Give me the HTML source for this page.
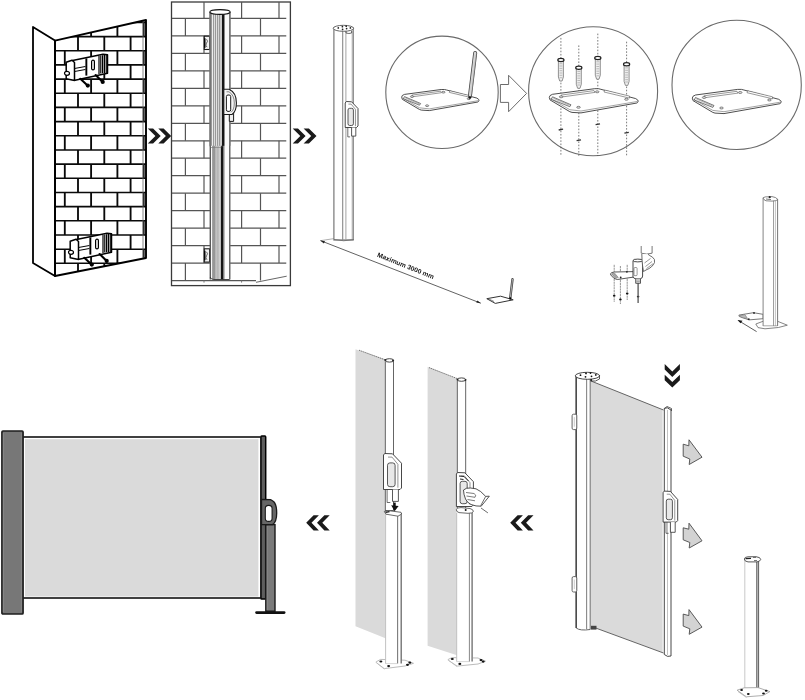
<!DOCTYPE html>
<html><head><meta charset="utf-8"><title>Installation</title>
<style>
html,body{margin:0;padding:0;background:#fff;width:805px;height:700px;overflow:hidden;}
svg{display:block;font-family:"Liberation Sans",sans-serif;will-change:transform;}
</style></head><body>
<svg width="805" height="700" viewBox="0 0 805 700">
<rect width="805" height="700" fill="#fff"/>
<defs><clipPath id="wall1"><polygon points="55,40.6 146,20 146,258 55,276"/></clipPath><clipPath id="wall2"><rect x="172" y="2" width="114.5" height="283.5"/></clipPath></defs>
<polygon points="33.0,27.0 55.0,40.6 55.0,276.0 33.0,263.0" fill="#fff" stroke="#000" stroke-width="1.8" stroke-linejoin="round" />
<g clip-path="url(#wall1)">
<line x1="55.0" y1="8.3" x2="146.0" y2="8.3" stroke="#0a0a0a" stroke-width="1.6" />
<line x1="52.0" y1="8.3" x2="52.0" y2="22.4" stroke="#0a0a0a" stroke-width="1.85" />
<line x1="78.0" y1="8.3" x2="78.0" y2="22.4" stroke="#0a0a0a" stroke-width="1.85" />
<line x1="104.3" y1="8.3" x2="104.3" y2="22.4" stroke="#0a0a0a" stroke-width="1.85" />
<line x1="130.6" y1="8.3" x2="130.6" y2="22.4" stroke="#0a0a0a" stroke-width="1.85" />
<line x1="55.0" y1="22.4" x2="146.0" y2="22.4" stroke="#0a0a0a" stroke-width="1.6" />
<line x1="64.8" y1="22.4" x2="64.8" y2="36.6" stroke="#0a0a0a" stroke-width="1.85" />
<line x1="91.1" y1="22.4" x2="91.1" y2="36.6" stroke="#0a0a0a" stroke-width="1.85" />
<line x1="117.4" y1="22.4" x2="117.4" y2="36.6" stroke="#0a0a0a" stroke-width="1.85" />
<line x1="143.7" y1="22.4" x2="143.7" y2="36.6" stroke="#0a0a0a" stroke-width="1.85" />
<line x1="55.0" y1="36.6" x2="146.0" y2="36.6" stroke="#0a0a0a" stroke-width="1.6" />
<line x1="52.0" y1="36.6" x2="52.0" y2="50.8" stroke="#0a0a0a" stroke-width="1.85" />
<line x1="78.0" y1="36.6" x2="78.0" y2="50.8" stroke="#0a0a0a" stroke-width="1.85" />
<line x1="104.3" y1="36.6" x2="104.3" y2="50.8" stroke="#0a0a0a" stroke-width="1.85" />
<line x1="130.6" y1="36.6" x2="130.6" y2="50.8" stroke="#0a0a0a" stroke-width="1.85" />
<line x1="55.0" y1="50.8" x2="146.0" y2="50.8" stroke="#0a0a0a" stroke-width="1.6" />
<line x1="64.8" y1="50.8" x2="64.8" y2="64.9" stroke="#0a0a0a" stroke-width="1.85" />
<line x1="91.1" y1="50.8" x2="91.1" y2="64.9" stroke="#0a0a0a" stroke-width="1.85" />
<line x1="117.4" y1="50.8" x2="117.4" y2="64.9" stroke="#0a0a0a" stroke-width="1.85" />
<line x1="143.7" y1="50.8" x2="143.7" y2="64.9" stroke="#0a0a0a" stroke-width="1.85" />
<line x1="55.0" y1="64.9" x2="146.0" y2="64.9" stroke="#0a0a0a" stroke-width="1.6" />
<line x1="52.0" y1="64.9" x2="52.0" y2="79.1" stroke="#0a0a0a" stroke-width="1.85" />
<line x1="78.0" y1="64.9" x2="78.0" y2="79.1" stroke="#0a0a0a" stroke-width="1.85" />
<line x1="104.3" y1="64.9" x2="104.3" y2="79.1" stroke="#0a0a0a" stroke-width="1.85" />
<line x1="130.6" y1="64.9" x2="130.6" y2="79.1" stroke="#0a0a0a" stroke-width="1.85" />
<line x1="55.0" y1="79.1" x2="146.0" y2="79.1" stroke="#0a0a0a" stroke-width="1.6" />
<line x1="64.8" y1="79.1" x2="64.8" y2="93.3" stroke="#0a0a0a" stroke-width="1.85" />
<line x1="91.1" y1="79.1" x2="91.1" y2="93.3" stroke="#0a0a0a" stroke-width="1.85" />
<line x1="117.4" y1="79.1" x2="117.4" y2="93.3" stroke="#0a0a0a" stroke-width="1.85" />
<line x1="143.7" y1="79.1" x2="143.7" y2="93.3" stroke="#0a0a0a" stroke-width="1.85" />
<line x1="55.0" y1="93.3" x2="146.0" y2="93.3" stroke="#0a0a0a" stroke-width="1.6" />
<line x1="52.0" y1="93.3" x2="52.0" y2="107.4" stroke="#0a0a0a" stroke-width="1.85" />
<line x1="78.0" y1="93.3" x2="78.0" y2="107.4" stroke="#0a0a0a" stroke-width="1.85" />
<line x1="104.3" y1="93.3" x2="104.3" y2="107.4" stroke="#0a0a0a" stroke-width="1.85" />
<line x1="130.6" y1="93.3" x2="130.6" y2="107.4" stroke="#0a0a0a" stroke-width="1.85" />
<line x1="55.0" y1="107.4" x2="146.0" y2="107.4" stroke="#0a0a0a" stroke-width="1.6" />
<line x1="64.8" y1="107.4" x2="64.8" y2="121.6" stroke="#0a0a0a" stroke-width="1.85" />
<line x1="91.1" y1="107.4" x2="91.1" y2="121.6" stroke="#0a0a0a" stroke-width="1.85" />
<line x1="117.4" y1="107.4" x2="117.4" y2="121.6" stroke="#0a0a0a" stroke-width="1.85" />
<line x1="143.7" y1="107.4" x2="143.7" y2="121.6" stroke="#0a0a0a" stroke-width="1.85" />
<line x1="55.0" y1="121.6" x2="146.0" y2="121.6" stroke="#0a0a0a" stroke-width="1.6" />
<line x1="52.0" y1="121.6" x2="52.0" y2="135.8" stroke="#0a0a0a" stroke-width="1.85" />
<line x1="78.0" y1="121.6" x2="78.0" y2="135.8" stroke="#0a0a0a" stroke-width="1.85" />
<line x1="104.3" y1="121.6" x2="104.3" y2="135.8" stroke="#0a0a0a" stroke-width="1.85" />
<line x1="130.6" y1="121.6" x2="130.6" y2="135.8" stroke="#0a0a0a" stroke-width="1.85" />
<line x1="55.0" y1="135.8" x2="146.0" y2="135.8" stroke="#0a0a0a" stroke-width="1.6" />
<line x1="64.8" y1="135.8" x2="64.8" y2="150.0" stroke="#0a0a0a" stroke-width="1.85" />
<line x1="91.1" y1="135.8" x2="91.1" y2="150.0" stroke="#0a0a0a" stroke-width="1.85" />
<line x1="117.4" y1="135.8" x2="117.4" y2="150.0" stroke="#0a0a0a" stroke-width="1.85" />
<line x1="143.7" y1="135.8" x2="143.7" y2="150.0" stroke="#0a0a0a" stroke-width="1.85" />
<line x1="55.0" y1="150.0" x2="146.0" y2="150.0" stroke="#0a0a0a" stroke-width="1.6" />
<line x1="52.0" y1="150.0" x2="52.0" y2="164.1" stroke="#0a0a0a" stroke-width="1.85" />
<line x1="78.0" y1="150.0" x2="78.0" y2="164.1" stroke="#0a0a0a" stroke-width="1.85" />
<line x1="104.3" y1="150.0" x2="104.3" y2="164.1" stroke="#0a0a0a" stroke-width="1.85" />
<line x1="130.6" y1="150.0" x2="130.6" y2="164.1" stroke="#0a0a0a" stroke-width="1.85" />
<line x1="55.0" y1="164.1" x2="146.0" y2="164.1" stroke="#0a0a0a" stroke-width="1.6" />
<line x1="64.8" y1="164.1" x2="64.8" y2="178.3" stroke="#0a0a0a" stroke-width="1.85" />
<line x1="91.1" y1="164.1" x2="91.1" y2="178.3" stroke="#0a0a0a" stroke-width="1.85" />
<line x1="117.4" y1="164.1" x2="117.4" y2="178.3" stroke="#0a0a0a" stroke-width="1.85" />
<line x1="143.7" y1="164.1" x2="143.7" y2="178.3" stroke="#0a0a0a" stroke-width="1.85" />
<line x1="55.0" y1="178.3" x2="146.0" y2="178.3" stroke="#0a0a0a" stroke-width="1.6" />
<line x1="52.0" y1="178.3" x2="52.0" y2="192.5" stroke="#0a0a0a" stroke-width="1.85" />
<line x1="78.0" y1="178.3" x2="78.0" y2="192.5" stroke="#0a0a0a" stroke-width="1.85" />
<line x1="104.3" y1="178.3" x2="104.3" y2="192.5" stroke="#0a0a0a" stroke-width="1.85" />
<line x1="130.6" y1="178.3" x2="130.6" y2="192.5" stroke="#0a0a0a" stroke-width="1.85" />
<line x1="55.0" y1="192.5" x2="146.0" y2="192.5" stroke="#0a0a0a" stroke-width="1.6" />
<line x1="64.8" y1="192.5" x2="64.8" y2="206.6" stroke="#0a0a0a" stroke-width="1.85" />
<line x1="91.1" y1="192.5" x2="91.1" y2="206.6" stroke="#0a0a0a" stroke-width="1.85" />
<line x1="117.4" y1="192.5" x2="117.4" y2="206.6" stroke="#0a0a0a" stroke-width="1.85" />
<line x1="143.7" y1="192.5" x2="143.7" y2="206.6" stroke="#0a0a0a" stroke-width="1.85" />
<line x1="55.0" y1="206.6" x2="146.0" y2="206.6" stroke="#0a0a0a" stroke-width="1.6" />
<line x1="52.0" y1="206.6" x2="52.0" y2="220.8" stroke="#0a0a0a" stroke-width="1.85" />
<line x1="78.0" y1="206.6" x2="78.0" y2="220.8" stroke="#0a0a0a" stroke-width="1.85" />
<line x1="104.3" y1="206.6" x2="104.3" y2="220.8" stroke="#0a0a0a" stroke-width="1.85" />
<line x1="130.6" y1="206.6" x2="130.6" y2="220.8" stroke="#0a0a0a" stroke-width="1.85" />
<line x1="55.0" y1="220.8" x2="146.0" y2="220.8" stroke="#0a0a0a" stroke-width="1.6" />
<line x1="64.8" y1="220.8" x2="64.8" y2="235.0" stroke="#0a0a0a" stroke-width="1.85" />
<line x1="91.1" y1="220.8" x2="91.1" y2="235.0" stroke="#0a0a0a" stroke-width="1.85" />
<line x1="117.4" y1="220.8" x2="117.4" y2="235.0" stroke="#0a0a0a" stroke-width="1.85" />
<line x1="143.7" y1="220.8" x2="143.7" y2="235.0" stroke="#0a0a0a" stroke-width="1.85" />
<line x1="55.0" y1="235.0" x2="146.0" y2="235.0" stroke="#0a0a0a" stroke-width="1.6" />
<line x1="52.0" y1="235.0" x2="52.0" y2="249.2" stroke="#0a0a0a" stroke-width="1.85" />
<line x1="78.0" y1="235.0" x2="78.0" y2="249.2" stroke="#0a0a0a" stroke-width="1.85" />
<line x1="104.3" y1="235.0" x2="104.3" y2="249.2" stroke="#0a0a0a" stroke-width="1.85" />
<line x1="130.6" y1="235.0" x2="130.6" y2="249.2" stroke="#0a0a0a" stroke-width="1.85" />
<line x1="55.0" y1="249.2" x2="146.0" y2="249.2" stroke="#0a0a0a" stroke-width="1.6" />
<line x1="64.8" y1="249.2" x2="64.8" y2="263.3" stroke="#0a0a0a" stroke-width="1.85" />
<line x1="91.1" y1="249.2" x2="91.1" y2="263.3" stroke="#0a0a0a" stroke-width="1.85" />
<line x1="117.4" y1="249.2" x2="117.4" y2="263.3" stroke="#0a0a0a" stroke-width="1.85" />
<line x1="143.7" y1="249.2" x2="143.7" y2="263.3" stroke="#0a0a0a" stroke-width="1.85" />
<line x1="55.0" y1="263.3" x2="146.0" y2="263.3" stroke="#0a0a0a" stroke-width="1.6" />
<line x1="52.0" y1="263.3" x2="52.0" y2="277.5" stroke="#0a0a0a" stroke-width="1.85" />
<line x1="78.0" y1="263.3" x2="78.0" y2="277.5" stroke="#0a0a0a" stroke-width="1.85" />
<line x1="104.3" y1="263.3" x2="104.3" y2="277.5" stroke="#0a0a0a" stroke-width="1.85" />
<line x1="130.6" y1="263.3" x2="130.6" y2="277.5" stroke="#0a0a0a" stroke-width="1.85" />
</g>
<polygon points="55.0,40.6 146.0,20.0 146.0,258.0 55.0,276.0" fill="none" stroke="#000" stroke-width="1.9" stroke-linejoin="round" />
<line x1="143.0" y1="22.0" x2="143.0" y2="258.0" stroke="#666" stroke-width="0.8" />
<g transform="translate(67,61)"><polygon points="5.5,-0.5 36,-6.8 40.5,-6.2 40.5,12.3 8,19.2 5.5,18" fill="#fff" stroke="#000" stroke-width="1.5" stroke-linejoin="round"/><polygon points="-0.8,1.2 5,-0.8 7.5,1.5 7.5,19.5 -0.8,17.8" fill="#fff" stroke="#000" stroke-width="1.5" stroke-linejoin="round"/><rect x="18.4" y="-2.6" width="1.9" height="17.2" fill="#000"/><rect x="24.6" y="-0.8" width="2.8" height="9.6" rx="1.4" fill="none" stroke="#000" stroke-width="1.2"/><path d="M32,-5.1 v18 M33.8,-5.4 v18 M35.6,-5.8 v18 M37.4,-6.1 v18 M39.2,-6.3 v18.5" stroke="#000" stroke-width="1.2"/><path d="M7.5,7.5 L18.4,5.5 M7.5,10.5 L18.4,8.5" stroke="#000" stroke-width="1"/><ellipse cx="0" cy="12.3" rx="2.5" ry="2" fill="#fff" stroke="#000" stroke-width="1.2"/><path d="M13.3,17.8 L20.3,24.2" stroke="#000" stroke-width="2.1" stroke-linecap="round"/><circle cx="20.8" cy="24.6" r="2.1" fill="#000"/><path d="M28.6,14 L35.2,20.5" stroke="#000" stroke-width="2.1" stroke-linecap="round"/><circle cx="35.7" cy="20.9" r="2.1" fill="#000"/></g>
<g transform="translate(71,240)"><polygon points="5.5,-0.5 36,-6.8 40.5,-6.2 40.5,12.3 8,19.2 5.5,18" fill="#fff" stroke="#000" stroke-width="1.5" stroke-linejoin="round"/><polygon points="-0.8,1.2 5,-0.8 7.5,1.5 7.5,19.5 -0.8,17.8" fill="#fff" stroke="#000" stroke-width="1.5" stroke-linejoin="round"/><rect x="18.4" y="-2.6" width="1.9" height="17.2" fill="#000"/><rect x="24.6" y="-0.8" width="2.8" height="9.6" rx="1.4" fill="none" stroke="#000" stroke-width="1.2"/><path d="M32,-5.1 v18 M33.8,-5.4 v18 M35.6,-5.8 v18 M37.4,-6.1 v18 M39.2,-6.3 v18.5" stroke="#000" stroke-width="1.2"/><path d="M7.5,7.5 L18.4,5.5 M7.5,10.5 L18.4,8.5" stroke="#000" stroke-width="1"/><ellipse cx="0" cy="12.3" rx="2.5" ry="2" fill="#fff" stroke="#000" stroke-width="1.2"/><path d="M13.3,17.8 L20.3,24.2" stroke="#000" stroke-width="2.1" stroke-linecap="round"/><circle cx="20.8" cy="24.6" r="2.1" fill="#000"/><path d="M28.6,14 L35.2,20.5" stroke="#000" stroke-width="2.1" stroke-linecap="round"/><circle cx="35.7" cy="20.9" r="2.1" fill="#000"/></g>
<polygon points="147.8,128.4 153.1,128.4 160.7,136.0 153.1,143.6 147.8,143.6 155.4,136.0" fill="#1a1a1a" stroke="none" stroke-width="0" stroke-linejoin="round" />
<polygon points="158.3,128.4 163.6,128.4 171.2,136.0 163.6,143.6 158.3,143.6 165.9,136.0" fill="#1a1a1a" stroke="none" stroke-width="0" stroke-linejoin="round" />
<polygon points="292.7,128.4 298.0,128.4 305.6,136.0 298.0,143.6 292.7,143.6 300.3,136.0" fill="#1a1a1a" stroke="none" stroke-width="0" stroke-linejoin="round" />
<polygon points="303.6,128.4 308.9,128.4 316.5,136.0 308.9,143.6 303.6,143.6 311.2,136.0" fill="#1a1a1a" stroke="none" stroke-width="0" stroke-linejoin="round" />
<rect x="171.5" y="2.0" width="118.9" height="283.6" fill="#fff" stroke="#3a3a3a" stroke-width="1.3"/>
<g clip-path="url(#wall2)">
<line x1="204.0" y1="2.0" x2="204.0" y2="18.4" stroke="#555" stroke-width="1.2" />
<line x1="241.6" y1="2.0" x2="241.6" y2="18.4" stroke="#555" stroke-width="1.2" />
<line x1="279.0" y1="2.0" x2="279.0" y2="18.4" stroke="#555" stroke-width="1.2" />
<line x1="172.0" y1="18.4" x2="286.5" y2="18.4" stroke="#555" stroke-width="1.2" />
<line x1="185.4" y1="18.4" x2="185.4" y2="35.9" stroke="#555" stroke-width="1.2" />
<line x1="223.0" y1="18.4" x2="223.0" y2="35.9" stroke="#555" stroke-width="1.2" />
<line x1="260.5" y1="18.4" x2="260.5" y2="35.9" stroke="#555" stroke-width="1.2" />
<line x1="172.0" y1="35.9" x2="286.5" y2="35.9" stroke="#555" stroke-width="1.2" />
<line x1="204.0" y1="35.9" x2="204.0" y2="53.4" stroke="#555" stroke-width="1.2" />
<line x1="241.6" y1="35.9" x2="241.6" y2="53.4" stroke="#555" stroke-width="1.2" />
<line x1="279.0" y1="35.9" x2="279.0" y2="53.4" stroke="#555" stroke-width="1.2" />
<line x1="172.0" y1="53.4" x2="286.5" y2="53.4" stroke="#555" stroke-width="1.2" />
<line x1="185.4" y1="53.4" x2="185.4" y2="70.8" stroke="#555" stroke-width="1.2" />
<line x1="223.0" y1="53.4" x2="223.0" y2="70.8" stroke="#555" stroke-width="1.2" />
<line x1="260.5" y1="53.4" x2="260.5" y2="70.8" stroke="#555" stroke-width="1.2" />
<line x1="172.0" y1="70.8" x2="286.5" y2="70.8" stroke="#555" stroke-width="1.2" />
<line x1="204.0" y1="70.8" x2="204.0" y2="88.3" stroke="#555" stroke-width="1.2" />
<line x1="241.6" y1="70.8" x2="241.6" y2="88.3" stroke="#555" stroke-width="1.2" />
<line x1="279.0" y1="70.8" x2="279.0" y2="88.3" stroke="#555" stroke-width="1.2" />
<line x1="172.0" y1="88.3" x2="286.5" y2="88.3" stroke="#555" stroke-width="1.2" />
<line x1="185.4" y1="88.3" x2="185.4" y2="105.8" stroke="#555" stroke-width="1.2" />
<line x1="223.0" y1="88.3" x2="223.0" y2="105.8" stroke="#555" stroke-width="1.2" />
<line x1="260.5" y1="88.3" x2="260.5" y2="105.8" stroke="#555" stroke-width="1.2" />
<line x1="172.0" y1="105.8" x2="286.5" y2="105.8" stroke="#555" stroke-width="1.2" />
<line x1="204.0" y1="105.8" x2="204.0" y2="123.3" stroke="#555" stroke-width="1.2" />
<line x1="241.6" y1="105.8" x2="241.6" y2="123.3" stroke="#555" stroke-width="1.2" />
<line x1="279.0" y1="105.8" x2="279.0" y2="123.3" stroke="#555" stroke-width="1.2" />
<line x1="172.0" y1="123.3" x2="286.5" y2="123.3" stroke="#555" stroke-width="1.2" />
<line x1="185.4" y1="123.3" x2="185.4" y2="140.8" stroke="#555" stroke-width="1.2" />
<line x1="223.0" y1="123.3" x2="223.0" y2="140.8" stroke="#555" stroke-width="1.2" />
<line x1="260.5" y1="123.3" x2="260.5" y2="140.8" stroke="#555" stroke-width="1.2" />
<line x1="172.0" y1="140.8" x2="286.5" y2="140.8" stroke="#555" stroke-width="1.2" />
<line x1="204.0" y1="140.8" x2="204.0" y2="158.2" stroke="#555" stroke-width="1.2" />
<line x1="241.6" y1="140.8" x2="241.6" y2="158.2" stroke="#555" stroke-width="1.2" />
<line x1="279.0" y1="140.8" x2="279.0" y2="158.2" stroke="#555" stroke-width="1.2" />
<line x1="172.0" y1="158.2" x2="286.5" y2="158.2" stroke="#555" stroke-width="1.2" />
<line x1="185.4" y1="158.2" x2="185.4" y2="175.7" stroke="#555" stroke-width="1.2" />
<line x1="223.0" y1="158.2" x2="223.0" y2="175.7" stroke="#555" stroke-width="1.2" />
<line x1="260.5" y1="158.2" x2="260.5" y2="175.7" stroke="#555" stroke-width="1.2" />
<line x1="172.0" y1="175.7" x2="286.5" y2="175.7" stroke="#555" stroke-width="1.2" />
<line x1="204.0" y1="175.7" x2="204.0" y2="193.2" stroke="#555" stroke-width="1.2" />
<line x1="241.6" y1="175.7" x2="241.6" y2="193.2" stroke="#555" stroke-width="1.2" />
<line x1="279.0" y1="175.7" x2="279.0" y2="193.2" stroke="#555" stroke-width="1.2" />
<line x1="172.0" y1="193.2" x2="286.5" y2="193.2" stroke="#555" stroke-width="1.2" />
<line x1="185.4" y1="193.2" x2="185.4" y2="210.7" stroke="#555" stroke-width="1.2" />
<line x1="223.0" y1="193.2" x2="223.0" y2="210.7" stroke="#555" stroke-width="1.2" />
<line x1="260.5" y1="193.2" x2="260.5" y2="210.7" stroke="#555" stroke-width="1.2" />
<line x1="172.0" y1="210.7" x2="286.5" y2="210.7" stroke="#555" stroke-width="1.2" />
<line x1="204.0" y1="210.7" x2="204.0" y2="228.2" stroke="#555" stroke-width="1.2" />
<line x1="241.6" y1="210.7" x2="241.6" y2="228.2" stroke="#555" stroke-width="1.2" />
<line x1="279.0" y1="210.7" x2="279.0" y2="228.2" stroke="#555" stroke-width="1.2" />
<line x1="172.0" y1="228.2" x2="286.5" y2="228.2" stroke="#555" stroke-width="1.2" />
<line x1="185.4" y1="228.2" x2="185.4" y2="245.6" stroke="#555" stroke-width="1.2" />
<line x1="223.0" y1="228.2" x2="223.0" y2="245.6" stroke="#555" stroke-width="1.2" />
<line x1="260.5" y1="228.2" x2="260.5" y2="245.6" stroke="#555" stroke-width="1.2" />
<line x1="172.0" y1="245.6" x2="286.5" y2="245.6" stroke="#555" stroke-width="1.2" />
<line x1="204.0" y1="245.6" x2="204.0" y2="263.1" stroke="#555" stroke-width="1.2" />
<line x1="241.6" y1="245.6" x2="241.6" y2="263.1" stroke="#555" stroke-width="1.2" />
<line x1="279.0" y1="245.6" x2="279.0" y2="263.1" stroke="#555" stroke-width="1.2" />
<line x1="172.0" y1="263.1" x2="286.5" y2="263.1" stroke="#555" stroke-width="1.2" />
<line x1="185.4" y1="263.1" x2="185.4" y2="280.6" stroke="#555" stroke-width="1.2" />
<line x1="223.0" y1="263.1" x2="223.0" y2="280.6" stroke="#555" stroke-width="1.2" />
<line x1="260.5" y1="263.1" x2="260.5" y2="280.6" stroke="#555" stroke-width="1.2" />
<line x1="172.0" y1="280.6" x2="256.0" y2="280.6" stroke="#555" stroke-width="1.2" />
<line x1="204.0" y1="280.6" x2="204.0" y2="282.6" stroke="#777" stroke-width="1" />
<line x1="241.6" y1="280.6" x2="241.6" y2="282.6" stroke="#777" stroke-width="1" />
</g>
<line x1="256.0" y1="282.3" x2="286.7" y2="276.2" stroke="#555" stroke-width="0.9" />
<rect x="204.3" y="36.2" width="5.3" height="13.3" fill="#f2f2f2" stroke="#1a1a1a" stroke-width="1.1"/>
<path d="M204.8,38.2 v9.5" stroke="#000" stroke-width="1.4"/>
<path d="M206.5,39.2 q2,2 0,4 q-1.5,2 0.5,4" fill="none" stroke="#444" stroke-width="0.8"/>
<rect x="204.3" y="248.8" width="5.3" height="13.3" fill="#f2f2f2" stroke="#1a1a1a" stroke-width="1.1"/>
<path d="M204.8,250.8 v9.5" stroke="#000" stroke-width="1.4"/>
<path d="M206.5,251.8 q2,2 0,4 q-1.5,2 0.5,4" fill="none" stroke="#444" stroke-width="0.8"/>
<defs><linearGradient id="pg" x1="0" x2="1" y1="0" y2="0"><stop offset="0" stop-color="#5a5a5a"/><stop offset="0.05" stop-color="#5a5a5a"/><stop offset="0.05" stop-color="#fafafa"/><stop offset="0.11" stop-color="#fafafa"/><stop offset="0.11" stop-color="#8e8e8e"/><stop offset="0.16" stop-color="#b0b0b0"/><stop offset="0.2" stop-color="#8a8a8a"/><stop offset="0.26" stop-color="#a0a0a0"/><stop offset="0.3" stop-color="#c8c8c8"/><stop offset="0.4" stop-color="#b2b2b2"/><stop offset="0.47" stop-color="#cfcfcf"/><stop offset="0.55" stop-color="#b0b0b0"/><stop offset="0.56" stop-color="#151515"/><stop offset="0.625" stop-color="#151515"/><stop offset="0.625" stop-color="#6a6a6a"/><stop offset="0.7" stop-color="#909090"/><stop offset="0.73" stop-color="#fbfbfb"/><stop offset="0.945" stop-color="#fbfbfb"/><stop offset="0.945" stop-color="#6a6a6a"/><stop offset="1" stop-color="#6a6a6a"/></linearGradient></defs>
<rect x="209.6" y="12" width="20.9" height="267.5" fill="url(#pg)" stroke="none"/>
<defs><linearGradient id="pgu" x1="0" x2="1" y1="0" y2="0"><stop offset="0.0000" stop-color="#777"/><stop offset="0.0569" stop-color="#777"/><stop offset="0.0569" stop-color="#fff"/><stop offset="0.0995" stop-color="#fff"/><stop offset="0.0995" stop-color="#999"/><stop offset="0.1280" stop-color="#999"/><stop offset="0.1280" stop-color="#eee"/><stop offset="0.1801" stop-color="#eee"/><stop offset="0.1801" stop-color="#9a9a9a"/><stop offset="0.2085" stop-color="#9a9a9a"/><stop offset="0.2085" stop-color="#ddd"/><stop offset="0.2749" stop-color="#ddd"/><stop offset="0.2749" stop-color="#999"/><stop offset="0.3081" stop-color="#999"/><stop offset="0.3081" stop-color="#e2e2e2"/><stop offset="0.3555" stop-color="#e2e2e2"/><stop offset="0.3555" stop-color="#9a9a9a"/><stop offset="0.3839" stop-color="#9a9a9a"/><stop offset="0.3839" stop-color="#d6d6d6"/><stop offset="0.4692" stop-color="#d6d6d6"/><stop offset="0.4692" stop-color="#999"/><stop offset="0.4976" stop-color="#999"/><stop offset="0.4976" stop-color="#cacaca"/><stop offset="0.5877" stop-color="#cacaca"/><stop offset="0.5877" stop-color="#151515"/><stop offset="0.6730" stop-color="#151515"/><stop offset="0.6730" stop-color="#8a8a8a"/><stop offset="0.7346" stop-color="#8a8a8a"/><stop offset="0.7346" stop-color="#fafafa"/><stop offset="0.9479" stop-color="#fafafa"/><stop offset="0.9479" stop-color="#777"/><stop offset="1.0000" stop-color="#777"/></linearGradient></defs>
<rect x="209.4" y="12" width="21.1" height="133.8" fill="url(#pgu)" stroke="none"/>
<path d="M209.6,145.8 L211,147.5 L221,147.5 L222.5,145.8" fill="none" stroke="#777" stroke-width="0.6"/>
<ellipse cx="220" cy="12" rx="10.2" ry="2.4" fill="#fff" stroke="#111" stroke-width="1.1"/>
<path d="M210,277 Q211,279.5 214,279.5 L229.6,279.5" fill="none" stroke="#333" stroke-width="0.9"/>
<path d="M229.3,113 L229.3,121.4 L233.6,121.4 L233.6,113" fill="#eee" stroke="#1a1a1a" stroke-width="1"/>
<path d="M223.8,89.3 L229,89.3 Q236.4,92.5 236.4,103 Q236.4,111.5 232,114.5 L223.8,114.5 Z" fill="#f4f4f4" stroke="#1a1a1a" stroke-width="1.1" stroke-linejoin="round"/>
<path d="M226.5,91.8 L229,91.8 Q234.3,95 234.3,103 Q234.3,110 231,112.3" fill="none" stroke="#555" stroke-width="0.7"/>
<rect x="226.4" y="95" width="4.3" height="16.4" rx="1.6" fill="#fff" stroke="#1a1a1a" stroke-width="1"/>
<rect x="333.9" y="28" width="19.3" height="212" fill="#fff" stroke="#777" stroke-width="1.2"/>
<line x1="342.7" y1="30.0" x2="342.7" y2="240.0" stroke="#888" stroke-width="1.1" />
<line x1="345.9" y1="30.0" x2="345.9" y2="240.0" stroke="#999" stroke-width="0.9" />
<line x1="352.2" y1="31.0" x2="352.2" y2="240.0" stroke="#aaa" stroke-width="0.9" />
<ellipse cx="343.4" cy="28.3" rx="10.2" ry="3" fill="#fff" stroke="#555" stroke-width="0.9"/>
<path d="M346,31.3 L346,33 Q349,34 351.6,33 L351.6,30.8" fill="none" stroke="#444" stroke-width="0.8"/>
<circle cx="338.3" cy="27.9" r="0.85" fill="#222"/>
<circle cx="342.4" cy="26.7" r="0.85" fill="#222"/>
<circle cx="346.2" cy="26.2" r="0.85" fill="#222"/>
<circle cx="350.4" cy="27.9" r="0.85" fill="#222"/>
<circle cx="342.6" cy="29.4" r="0.85" fill="#222"/>
<circle cx="346.6" cy="28.6" r="0.85" fill="#222"/>
<path d="M334,239.5 Q343.6,242 353.8,239.5" fill="none" stroke="#666" stroke-width="0.8"/>
<path d="M345.2,103.0 L346.4,101.5 L351.59999999999997,101.8 L358.0,108.52 L358.0,126.0 L356.5,127.5 L345.2,127.5 Z" fill="#fff" stroke="#333" stroke-width="0.9" stroke-linejoin="round"/><path d="M348.4,104.1 L351.09999999999997,104.1 L355.44,109.3 L355.44,126.2" fill="none" stroke="#666" stroke-width="0.7"/><rect x="348.0" y="108.3" width="5.4" height="17.2" rx="1.7" fill="#e8e8e8" stroke="#333" stroke-width="0.81"/><path d="M351.6,127.5 L351.6,136.1 L355.8,136.1 L355.8,127.5" fill="#fff" stroke="#333" stroke-width="0.81"/><path d="M347.8,127.5 L347.8,136.9 L350.1,136.9" fill="none" stroke="#333" stroke-width="0.72"/>
<line x1="320.4" y1="240.6" x2="480.8" y2="303.2" stroke="#3a3a3a" stroke-width="0.8" />
<line x1="321.0" y1="240.6" x2="334.0" y2="238.6" stroke="#777" stroke-width="0.6" />
<polygon points="320.4,240.6 325.0,241.2 323.8,243.4" fill="#222" stroke="none" stroke-width="1" stroke-linejoin="round" />
<polygon points="480.8,303.2 476.2,302.6 477.4,300.4" fill="#222" stroke="none" stroke-width="1" stroke-linejoin="round" />
<text x="0" y="0" transform="translate(376.8,256.5) rotate(22)" font-family="'Liberation Sans', sans-serif" font-size="6.6" font-weight="bold" fill="#111">Maximum 3000 mm</text>
<polygon points="486.8,298.7 500.6,296.2 513.2,299.8 495.3,303.4" fill="#fff" stroke="#333" stroke-width="1" stroke-linejoin="round" />
<line x1="489.0" y1="299.0" x2="494.0" y2="301.5" stroke="#555" stroke-width="0.7" />
<path d="M510.2,298.3 L512.5,279.3" stroke="#444" stroke-width="2.4" stroke-linecap="round"/>
<path d="M510.2,298.3 L512.5,279.3" stroke="#aaa" stroke-width="1" stroke-linecap="round"/>
<circle cx="510.3" cy="298.3" r="1.1" fill="#000"/>
<circle cx="442" cy="92.3" r="56.2" fill="none" stroke="#6a6a6a" stroke-width="1.1"/>
<circle cx="593.1" cy="91.2" r="64.5" fill="none" stroke="#6a6a6a" stroke-width="1.1"/>
<circle cx="736.65" cy="84.9" r="64.65" fill="none" stroke="#6a6a6a" stroke-width="1.1"/>
<polygon points="500.4,84.5 508.6,84.5 508.6,75.3 526.6,93.4 508.6,111.7 508.6,102.4 500.4,102.4" fill="#fff" stroke="#5a5a5a" stroke-width="0.9" stroke-linejoin="round" />
<polygon points="401.7,97.1 402.3,95.5 404.5,94.4 441.2,89.5 444.5,89.5 446.6,90.0 476.9,98.1 478.7,99.4 479.0,100.3 478.4,101.6 477.9,102.0 429.3,110.6 421.4,110.1 419.5,109.5 402.3,99.3" fill="#fff" stroke="#3a3a3a" stroke-width="0.9" stroke-linejoin="round"/><polyline points="402.6,98.1 419.5,107.8 429.3,108.9 478.2,100.7" fill="none" stroke="#666" stroke-width="0.6"/><polygon points="411.9,95.1 440.6,91.2 441.4,92.7 413.2,96.7" fill="#fff" stroke="#555" stroke-width="0.6"/><polygon points="449.8,90.7 471.5,96.0 471.5,97.7 449.3,92.4" fill="#fff" stroke="#555" stroke-width="0.6"/><polygon points="404.5,96.6 420.6,103.5 419.5,105.2 403.3,98.7" fill="#eee" stroke="#444" stroke-width="0.7"/><polyline points="405.3,97.8 419.3,103.9" fill="none" stroke="#777" stroke-width="0.5"/><ellipse cx="412.0" cy="96.6" rx="1.6" ry="0.9" fill="#ddd" stroke="#444" stroke-width="0.6"/><ellipse cx="427.1" cy="105.7" rx="1.6" ry="0.9" fill="#ddd" stroke="#444" stroke-width="0.6"/><ellipse cx="443.4" cy="92.2" rx="1.6" ry="0.9" fill="#ddd" stroke="#444" stroke-width="0.6"/><ellipse cx="468.8" cy="98.7" rx="1.6" ry="0.9" fill="#ddd" stroke="#444" stroke-width="0.6"/>
<path d="M470,95.5 L475.2,53" stroke="#444" stroke-width="4" stroke-linecap="round"/>
<path d="M470,95.5 L475.2,53" stroke="#d4d4d4" stroke-width="2.4" stroke-linecap="round"/>
<path d="M471.6,94 L476,55" stroke="#999" stroke-width="0.5"/>
<circle cx="469.8" cy="97.5" r="1.3" fill="#111"/>
<line x1="560.9" y1="37.9" x2="560.9" y2="156.0" stroke="#444" stroke-width="0.7" stroke-dasharray="1.6,1.6"/>
<line x1="578.8" y1="45.4" x2="578.8" y2="156.0" stroke="#444" stroke-width="0.7" stroke-dasharray="1.6,1.6"/>
<line x1="597.8" y1="33.6" x2="597.8" y2="156.0" stroke="#444" stroke-width="0.7" stroke-dasharray="1.6,1.6"/>
<line x1="626.6" y1="41.7" x2="626.6" y2="156.0" stroke="#444" stroke-width="0.7" stroke-dasharray="1.6,1.6"/>
<polygon points="549.3,97.4 550.0,95.6 552.5,94.3 594.7,88.7 598.5,88.7 600.9,89.3 635.7,98.6 637.8,100.1 638.2,101.1 637.5,102.6 636.9,103.0 581.0,112.9 572.0,112.4 569.8,111.7 550.0,99.9" fill="#fff" stroke="#3a3a3a" stroke-width="0.9" stroke-linejoin="round"/><polyline points="550.3,98.5 569.8,109.7 581.0,111.0 637.2,101.5" fill="none" stroke="#666" stroke-width="0.6"/><polygon points="561.0,95.1 594.0,90.6 595.0,92.4 562.5,96.9" fill="#fff" stroke="#555" stroke-width="0.6"/><polygon points="604.6,90.0 629.5,96.1 629.5,98.1 604.0,92.0" fill="#fff" stroke="#555" stroke-width="0.6"/><polygon points="552.5,96.8 571.0,104.8 569.8,106.7 551.2,99.3" fill="#eee" stroke="#444" stroke-width="0.7"/><polyline points="553.5,98.2 569.5,105.2" fill="none" stroke="#777" stroke-width="0.5"/><ellipse cx="561.1" cy="96.8" rx="1.8" ry="1.0" fill="#ddd" stroke="#444" stroke-width="0.6"/><ellipse cx="578.5" cy="107.3" rx="1.8" ry="1.0" fill="#ddd" stroke="#444" stroke-width="0.6"/><ellipse cx="597.2" cy="91.8" rx="1.8" ry="1.0" fill="#ddd" stroke="#444" stroke-width="0.6"/><ellipse cx="626.4" cy="99.3" rx="1.8" ry="1.0" fill="#ddd" stroke="#444" stroke-width="0.6"/>
<path d="M558.4,60.0 L558.4,77.0 L559.7,81.0 L562.1,81.0 L563.4,77.0 L563.4,60.0 Z" fill="#eee" stroke="#777" stroke-width="0.8"/>
<ellipse cx="560.9" cy="60.0" rx="3.1" ry="1.6" fill="#fff" stroke="#222" stroke-width="1.2"/>
<line x1="559.5" y1="63.7" x2="562.3" y2="63.7" stroke="#999" stroke-width="0.6" />
<line x1="559.5" y1="66.0" x2="562.3" y2="66.0" stroke="#999" stroke-width="0.6" />
<line x1="559.5" y1="68.4" x2="562.3" y2="68.4" stroke="#999" stroke-width="0.6" />
<line x1="559.5" y1="70.7" x2="562.3" y2="70.7" stroke="#999" stroke-width="0.6" />
<line x1="559.5" y1="73.0" x2="562.3" y2="73.0" stroke="#999" stroke-width="0.6" />
<line x1="559.5" y1="75.3" x2="562.3" y2="75.3" stroke="#999" stroke-width="0.6" />
<line x1="559.5" y1="77.7" x2="562.3" y2="77.7" stroke="#999" stroke-width="0.6" />
<path d="M576.3,67.7 L576.3,84.3 L577.6,88.3 L580.0,88.3 L581.3,84.3 L581.3,67.7 Z" fill="#eee" stroke="#777" stroke-width="0.8"/>
<ellipse cx="578.8" cy="67.7" rx="3.1" ry="1.6" fill="#fff" stroke="#222" stroke-width="1.2"/>
<line x1="577.4" y1="71.4" x2="580.2" y2="71.4" stroke="#999" stroke-width="0.6" />
<line x1="577.4" y1="73.6" x2="580.2" y2="73.6" stroke="#999" stroke-width="0.6" />
<line x1="577.4" y1="75.9" x2="580.2" y2="75.9" stroke="#999" stroke-width="0.6" />
<line x1="577.4" y1="78.2" x2="580.2" y2="78.2" stroke="#999" stroke-width="0.6" />
<line x1="577.4" y1="80.5" x2="580.2" y2="80.5" stroke="#999" stroke-width="0.6" />
<line x1="577.4" y1="82.8" x2="580.2" y2="82.8" stroke="#999" stroke-width="0.6" />
<line x1="577.4" y1="85.0" x2="580.2" y2="85.0" stroke="#999" stroke-width="0.6" />
<path d="M595.3,58.0 L595.3,75.2 L596.6,79.2 L599.0,79.2 L600.3,75.2 L600.3,58.0 Z" fill="#eee" stroke="#777" stroke-width="0.8"/>
<ellipse cx="597.8" cy="58.0" rx="3.1" ry="1.6" fill="#fff" stroke="#222" stroke-width="1.2"/>
<line x1="596.4" y1="61.8" x2="599.2" y2="61.8" stroke="#999" stroke-width="0.6" />
<line x1="596.4" y1="64.1" x2="599.2" y2="64.1" stroke="#999" stroke-width="0.6" />
<line x1="596.4" y1="66.5" x2="599.2" y2="66.5" stroke="#999" stroke-width="0.6" />
<line x1="596.4" y1="68.8" x2="599.2" y2="68.8" stroke="#999" stroke-width="0.6" />
<line x1="596.4" y1="71.2" x2="599.2" y2="71.2" stroke="#999" stroke-width="0.6" />
<line x1="596.4" y1="73.5" x2="599.2" y2="73.5" stroke="#999" stroke-width="0.6" />
<line x1="596.4" y1="75.8" x2="599.2" y2="75.8" stroke="#999" stroke-width="0.6" />
<path d="M624.1,64.2 L624.1,81.4 L625.4,85.4 L627.8,85.4 L629.1,81.4 L629.1,64.2 Z" fill="#eee" stroke="#777" stroke-width="0.8"/>
<ellipse cx="626.6" cy="64.2" rx="3.1" ry="1.6" fill="#fff" stroke="#222" stroke-width="1.2"/>
<line x1="625.2" y1="67.9" x2="628.0" y2="67.9" stroke="#999" stroke-width="0.6" />
<line x1="625.2" y1="70.3" x2="628.0" y2="70.3" stroke="#999" stroke-width="0.6" />
<line x1="625.2" y1="72.6" x2="628.0" y2="72.6" stroke="#999" stroke-width="0.6" />
<line x1="625.2" y1="75.0" x2="628.0" y2="75.0" stroke="#999" stroke-width="0.6" />
<line x1="625.2" y1="77.3" x2="628.0" y2="77.3" stroke="#999" stroke-width="0.6" />
<line x1="625.2" y1="79.7" x2="628.0" y2="79.7" stroke="#999" stroke-width="0.6" />
<line x1="625.2" y1="82.0" x2="628.0" y2="82.0" stroke="#999" stroke-width="0.6" />
<path d="M558.6999999999999,130 L563.1,129.2" stroke="#333" stroke-width="1.3"/>
<path d="M576.5999999999999,140.7 L581.0,139.89999999999998" stroke="#333" stroke-width="1.3"/>
<path d="M595.5999999999999,124.6 L600.0,123.8" stroke="#333" stroke-width="1.3"/>
<path d="M624.4,133.2 L628.8000000000001,132.39999999999998" stroke="#333" stroke-width="1.3"/>
<polygon points="692.3,98.1 693.0,96.3 695.5,95.0 737.7,89.4 741.5,89.4 743.9,90.0 778.7,99.3 780.8,100.8 781.2,101.8 780.5,103.3 779.9,103.7 724.0,113.6 715.0,113.1 712.8,112.4 693.0,100.6" fill="#fff" stroke="#3a3a3a" stroke-width="0.9" stroke-linejoin="round"/><polyline points="693.3,99.2 712.8,110.4 724.0,111.7 780.2,102.2" fill="none" stroke="#666" stroke-width="0.6"/><polygon points="704.0,95.8 737.0,91.3 738.0,93.1 705.5,97.6" fill="#fff" stroke="#555" stroke-width="0.6"/><polygon points="747.6,90.7 772.5,96.8 772.5,98.8 747.0,92.7" fill="#fff" stroke="#555" stroke-width="0.6"/><polygon points="695.5,97.5 714.0,105.5 712.8,107.4 694.2,100.0" fill="#eee" stroke="#444" stroke-width="0.7"/><polyline points="696.5,98.9 712.5,105.9" fill="none" stroke="#777" stroke-width="0.5"/><ellipse cx="704.1" cy="97.5" rx="1.8" ry="1.0" fill="#ddd" stroke="#444" stroke-width="0.6"/><ellipse cx="721.5" cy="108.0" rx="1.8" ry="1.0" fill="#ddd" stroke="#444" stroke-width="0.6"/><ellipse cx="740.2" cy="92.5" rx="1.8" ry="1.0" fill="#ddd" stroke="#444" stroke-width="0.6"/><ellipse cx="769.4" cy="100.0" rx="1.8" ry="1.0" fill="#ddd" stroke="#444" stroke-width="0.6"/>
<line x1="614.2" y1="264.8" x2="614.2" y2="302.0" stroke="#666" stroke-width="0.7" stroke-dasharray="2.2,0.6"/>
<line x1="620.4" y1="266.0" x2="620.4" y2="304.0" stroke="#666" stroke-width="0.7" stroke-dasharray="2.2,0.6"/>
<line x1="627.2" y1="264.8" x2="627.2" y2="300.0" stroke="#666" stroke-width="0.7" stroke-dasharray="2.2,0.6"/>
<path d="M610.5,273.7 Q611,272.3 614.6,272 L633.4,271.6 L633.6,277.1 L617.3,279.5 Q614,279.5 610.8,275 Z" fill="#fff" stroke="#444" stroke-width="0.9" stroke-linejoin="round"/>
<path d="M611.5,273.8 L614.5,273 L618.3,277.5 L615.2,278.3 Z" fill="#bbb" stroke="#666" stroke-width="0.5"/>
<path d="M612.3,274.3 L616.3,277.4 M613.4,273.6 L617.4,276.8" stroke="#777" stroke-width="0.5"/>
<ellipse cx="614.2" cy="295.7" rx="1.3" ry="0.9" fill="#111"/>
<ellipse cx="620.4" cy="299.4" rx="1.3" ry="0.9" fill="#111"/>
<ellipse cx="627.2" cy="293.5" rx="1.3" ry="0.9" fill="#111"/>
<ellipse cx="638.1" cy="296.6" rx="1.3" ry="0.9" fill="#111"/>
<circle cx="620.7" cy="277.5" r="0.9" fill="#222"/>
<circle cx="626.9" cy="271.8" r="0.9" fill="#222"/>
<line x1="638.1" y1="283.0" x2="638.1" y2="303.0" stroke="#555" stroke-width="1.3" />
<path d="M633,260.5 L633,277 Q633.5,278.6 635.7,278.6 L640.5,278.6 Q642.6,278.5 642.6,276 L642.6,260.5" fill="#fff" stroke="#333" stroke-width="0.9"/>
<ellipse cx="637.8" cy="260.5" rx="4.8" ry="1.4" fill="#fff" stroke="#333" stroke-width="0.9"/>
<rect x="634" y="267.5" width="3.1" height="8.2" rx="1" fill="#fff" stroke="#555" stroke-width="0.6"/>
<path d="M635.7,278.6 L635.7,283.3 L640.5,283.3 L640.5,278.6" fill="#e4e4e4" stroke="#333" stroke-width="0.8"/>
<path d="M636.4,280 h3.5 M636.4,281.6 h3.5" stroke="#666" stroke-width="0.5"/>
<path d="M641.2,246 L641.2,253.2 M652.1,246 L652.1,253.2 M641.2,253.2 Q646.6,255 652.1,253.2" fill="none" stroke="#555" stroke-width="0.8"/>
<path d="M641.8,254 Q642,262 642.6,266 L643.5,271.5 L646,270 Q652.5,267.5 654.5,262.5 Q655.3,259 652.5,257.2 Q649.5,255.5 648,254.3" fill="#fff" stroke="#444" stroke-width="0.8" stroke-linejoin="round"/>
<path d="M645.5,266.5 L652,261.5 M646.5,268.5 L653,263.8 M644.5,263 L650.5,258.5" stroke="#555" stroke-width="0.6"/>
<polygon points="738.9,315.1 753.4,312.7 763.1,314.3 763.1,318.7 749.0,319.9 739.3,316.5" fill="#fff" stroke="#555" stroke-width="0.8" stroke-linejoin="round" />
<polygon points="739.6,315.6 745.0,314.6 747.5,318.5 742.0,317.6" fill="#bbb" stroke="#666" stroke-width="0.5" stroke-linejoin="round" />
<circle cx="754" cy="313" r="0.9" fill="#222"/><circle cx="748.8" cy="319.2" r="0.9" fill="#222"/>
<line x1="738.5" y1="320.6" x2="756.6" y2="331.6" stroke="#333" stroke-width="0.8" />
<polygon points="737.5,320.0 742.5,320.8 740.5,323.2" fill="#111" stroke="none" stroke-width="1" stroke-linejoin="round" />
<path d="M755.8,324 L763,321.3 L777.6,321.3 L787.3,325.2 L778.4,327.5 L765,328.8 L758,327.6 Z" fill="#fff" stroke="#666" stroke-width="0.8" stroke-linejoin="round"/>
<rect x="763.1" y="197.5" width="14.6" height="128.3" fill="#fff" stroke="none"/>
<line x1="763.1" y1="198.0" x2="763.1" y2="326.0" stroke="#777" stroke-width="0.9" />
<line x1="777.6" y1="199.0" x2="777.6" y2="326.0" stroke="#666" stroke-width="0.9" />
<line x1="773.5" y1="200.0" x2="773.5" y2="326.0" stroke="#888" stroke-width="0.8" />
<line x1="775.4" y1="200.0" x2="775.4" y2="326.0" stroke="#aaa" stroke-width="0.7" />
<line x1="763.1" y1="325.8" x2="777.6" y2="325.8" stroke="#888" stroke-width="0.7" />
<path d="M763,197.8 Q765,196.5 768,196.8 L772,196.6 Q776,197 778,199.6 Q776,201 772,201.1 L766,200.8 Q763.5,200 763,197.8 Z" fill="#fff" stroke="#666" stroke-width="0.8"/>
<circle cx="769.7" cy="197.2" r="1.1" fill="#222"/>
<path d="M766,199 L771,199.6" stroke="#555" stroke-width="0.8"/>
<rect x="23" y="436.2" width="237.5" height="162.5" fill="#fff"/>
<rect x="25" y="439.2" width="233.4" height="157.3" fill="#dadada"/>
<line x1="23.0" y1="437.0" x2="260.5" y2="437.0" stroke="#000" stroke-width="1.6" />
<line x1="23.0" y1="598.0" x2="260.5" y2="598.0" stroke="#000" stroke-width="1.6" />
<rect x="1.95" y="431" width="21.1" height="183" rx="1" fill="#777" stroke="#1e1e1e" stroke-width="1.7"/>
<line x1="3.3" y1="433.0" x2="3.3" y2="612.0" stroke="#8e8e8e" stroke-width="0.8" />
<line x1="21.4" y1="433.0" x2="21.4" y2="612.0" stroke="#8a8a8a" stroke-width="0.8" />
<rect x="260.9" y="436.1" width="4.8" height="163" rx="0.8" fill="#5e5e5e" stroke="#000" stroke-width="1.5"/>
<rect x="265.8" y="524.6" width="9.2" height="86.6" fill="#7a7a7a" stroke="#1a1a1a" stroke-width="1.4"/>
<line x1="267.3" y1="526.0" x2="267.3" y2="610.0" stroke="#8e8e8e" stroke-width="0.7" />
<path d="M256.5,612.6 L284.2,612.6" stroke="#111" stroke-width="2.6" stroke-linecap="round"/>
<path d="M261.5,499.4 L270.5,499.6 Q272,500.3 273.8,501.8 Q276.7,505 276.7,512.9 Q276.7,522 272.5,524.6 L261.5,524.6 Z" fill="#666" stroke="#1a1a1a" stroke-width="1.3" stroke-linejoin="round"/>
<rect x="265.3" y="505.4" width="6.8" height="16" rx="3.2" fill="#fff" stroke="#1a1a1a" stroke-width="1.1"/>
<polygon points="306.2,522.8 313.6,515.2 318.9,515.2 311.5,522.8 318.9,530.4 313.6,530.4" fill="#1a1a1a" stroke="none" stroke-width="1" stroke-linejoin="round" />
<polygon points="317.0,522.8 324.4,515.2 329.7,515.2 322.3,522.8 329.7,530.4 324.4,530.4" fill="#1a1a1a" stroke="none" stroke-width="1" stroke-linejoin="round" />
<polygon points="510.2,522.8 517.6,515.2 522.9,515.2 515.5,522.8 522.9,530.4 517.6,530.4" fill="#1a1a1a" stroke="none" stroke-width="1" stroke-linejoin="round" />
<polygon points="520.8,522.8 528.2,515.2 533.5,515.2 526.1,522.8 533.5,530.4 528.2,530.4" fill="#1a1a1a" stroke="none" stroke-width="1" stroke-linejoin="round" />
<polygon points="355.5,349.3 386.1,359.4 386.1,638.4 355.5,626.3" fill="#dadada" stroke="none" stroke-width="0" stroke-linejoin="round" />
<line x1="359.0" y1="350.2" x2="385.3" y2="359.9" stroke="#555" stroke-width="0.8" stroke-dasharray="1.5,0.7"/>
<rect x="385.3" y="360.5" width="8.2" height="150" fill="#fff" stroke="#555" stroke-width="0.9"/>
<ellipse cx="389.4" cy="360.4" rx="4.2" ry="1.7" fill="#fff" stroke="#333" stroke-width="0.9"/>
<circle cx="385.5" cy="360" r="1" fill="#222"/><circle cx="393" cy="360.5" r="1" fill="#222"/>
<polygon points="376.2,661.8 380.6,659.4 405.0,660.2 413.5,663.3 405.0,666.0 384.3,668.6 376.2,662.6" fill="#fff" stroke="#aaa" stroke-width="0.8" stroke-linejoin="round" />
<line x1="377.0" y1="663.0" x2="384.3" y2="669.2" stroke="#bbb" stroke-width="0.7" />
<ellipse cx="380.9" cy="661.5" rx="1.5" ry="1.1" fill="#111"/>
<ellipse cx="388.6" cy="666.1" rx="1.5" ry="1.1" fill="#111"/>
<ellipse cx="409.8" cy="662.7" rx="1.5" ry="1.1" fill="#111"/>
<ellipse cx="407.5" cy="664.8" rx="1.5" ry="1.1" fill="#111"/>
<rect x="385.5" y="512" width="16.2" height="151.6" fill="#fff" stroke="none"/>
<line x1="385.6" y1="514.0" x2="385.6" y2="663.6" stroke="#bbb" stroke-width="0.9" />
<line x1="397.6" y1="515.0" x2="397.6" y2="663.6" stroke="#7a7a7a" stroke-width="1.1" />
<line x1="401.2" y1="513.0" x2="401.2" y2="663.6" stroke="#6a6a6a" stroke-width="1.3" />
<line x1="385.6" y1="663.6" x2="397.6" y2="663.6" stroke="#bbb" stroke-width="0.6" />
<polygon points="384.3,511.5 388.0,510.6 401.0,512.3 401.6,514.0 398.0,516.2 386.0,514.2" fill="#fff" stroke="#444" stroke-width="0.8" stroke-linejoin="round" />
<path d="M385.5,512.3 L389.5,511.6" stroke="#111" stroke-width="1.2"/>
<path d="M383.5,455.0 L384.7,453.5 L392.5,453.8 L401.5,463.22 L401.5,488.0 L400.0,489.5 L383.5,489.5 Z" fill="#fff" stroke="#333" stroke-width="0.9" stroke-linejoin="round"/><path d="M388.0,457.1 L392.0,457.1 L397.9,464.3 L397.9,487.7" fill="none" stroke="#666" stroke-width="0.7"/><rect x="387.5" y="462.9" width="7.6" height="23.8" rx="2.4" fill="#e8e8e8" stroke="#333" stroke-width="0.81"/><path d="M392.5,489.5 L392.5,501.4 L398.4,501.4 L398.4,489.5" fill="#fff" stroke="#333" stroke-width="0.81"/><path d="M387.1,489.5 L387.1,502.5 L390.3,502.5" fill="none" stroke="#333" stroke-width="0.72"/>
<rect x="393.4" y="502.6" width="2.3" height="3.6" fill="#111"/>
<polygon points="391.2,505.3 398.6,506.1 394.6,511.2" fill="#111" stroke="none" stroke-width="1" stroke-linejoin="round" />
<polygon points="427.6,366.8 457.8,378.9 457.8,655.4 427.6,645.7" fill="#dadada" stroke="none" stroke-width="0" stroke-linejoin="round" />
<line x1="429.0" y1="367.6" x2="457.3" y2="378.6" stroke="#555" stroke-width="0.8" stroke-dasharray="1.5,0.7"/>
<rect x="457.3" y="379.5" width="8.4" height="131.5" fill="#fff" stroke="#555" stroke-width="0.9"/>
<ellipse cx="461.5" cy="379.6" rx="4.2" ry="1.7" fill="#fff" stroke="#333" stroke-width="0.9"/>
<circle cx="457.6" cy="379.5" r="0.9" fill="#222"/><circle cx="465.4" cy="380" r="0.9" fill="#222"/>
<polygon points="448.2,659.4 452.0,657.6 478.0,658.0 485.5,661.2 478.0,664.0 457.1,666.1 448.2,660.2" fill="#fff" stroke="#aaa" stroke-width="0.8" stroke-linejoin="round" />
<line x1="449.0" y1="660.6" x2="457.1" y2="666.8" stroke="#bbb" stroke-width="0.7" />
<ellipse cx="452.3" cy="659" rx="1.5" ry="1.1" fill="#111"/>
<ellipse cx="459.8" cy="663.9" rx="1.5" ry="1.1" fill="#111"/>
<ellipse cx="481" cy="660.1" rx="1.5" ry="1.1" fill="#111"/>
<ellipse cx="483.2" cy="661.6" rx="1.5" ry="1.1" fill="#111"/>
<rect x="456.6" y="511" width="16.4" height="150.6" fill="#fff" stroke="none"/>
<line x1="456.7" y1="513.0" x2="456.7" y2="661.6" stroke="#bbb" stroke-width="0.9" />
<line x1="469.4" y1="513.0" x2="469.4" y2="661.6" stroke="#888" stroke-width="1.0" />
<line x1="472.1" y1="512.0" x2="472.1" y2="661.6" stroke="#6a6a6a" stroke-width="1.3" />
<line x1="456.7" y1="661.6" x2="469.4" y2="661.6" stroke="#bbb" stroke-width="0.6" />
<path d="M456.3,509.5 Q457,507.5 461,507.6 L470,508.5 Q473.5,509.5 473.4,511.5 Q472.5,513.5 468,513.3 L459,512.6 Q456.2,511.8 456.3,509.5 Z" fill="#fff" stroke="#444" stroke-width="0.8"/>
<circle cx="465.7" cy="510" r="1" fill="#111"/>
<path d="M456.4,474.0 L457.59999999999997,472.5 L464.9,472.8 L473.4,481.68 L473.4,505.0 L471.9,506.5 L456.4,506.5 Z" fill="#fff" stroke="#333" stroke-width="0.9" stroke-linejoin="round"/><path d="M460.65,475.9 L464.4,475.9 L470.0,482.7 L470.0,504.8" fill="none" stroke="#666" stroke-width="0.7"/><rect x="460.1" y="481.3" width="7.1" height="22.4" rx="2.2" fill="#e8e8e8" stroke="#333" stroke-width="0.81"/>
<path d="M463.5,490 Q466,487.5 470.5,488 L476,488.8 Q480.5,490.5 485.7,496.4 L489.3,496.2 L481.2,506.2 Q476,506.5 471,504.5 Q467,502.5 465.5,499 Q463.5,494 463.5,490 Z" fill="#fff" stroke="#333" stroke-width="0.85" stroke-linejoin="round"/>
<path d="M466,492.5 L474,493.5 M466.5,496 L475,497.3 M467.5,499.5 L475,500.8 M474,493.5 Q477,495 475,497.3" fill="none" stroke="#444" stroke-width="0.7"/>
<path d="M485.7,496.4 L480.7,505.7 M481,508 L487.9,512.9" fill="none" stroke="#444" stroke-width="0.8"/>
<path d="M459,476 L464,476.5 L468.5,481 M460,479 L463.5,479.5" fill="none" stroke="#222" stroke-width="1"/>
<polygon points="591.0,381.0 662.6,409.6 662.6,652.4 591.0,626.3" fill="#dadada" stroke="none" stroke-width="0" stroke-linejoin="round" />
<line x1="591.0" y1="381.0" x2="663.5" y2="410.0" stroke="#555" stroke-width="0.9" />
<line x1="591.0" y1="626.3" x2="663.5" y2="653.0" stroke="#555" stroke-width="0.9" />
<path d="M576.2,375 L576.2,628 Q580,631 590.2,629.5 L590.2,375 Z" fill="#fff" stroke="#555" stroke-width="0.9"/>
<line x1="576.2" y1="376.0" x2="576.2" y2="628.0" stroke="#444" stroke-width="1.4" />
<line x1="586.6" y1="378.0" x2="586.6" y2="629.0" stroke="#888" stroke-width="1.1" />
<ellipse cx="587.4" cy="375.8" rx="12.1" ry="3.5" fill="#fff" stroke="#333" stroke-width="0.9"/>
<path d="M590.5,381 Q596,382 599.5,379 L599.5,375" fill="none" stroke="#333" stroke-width="0.8"/>
<circle cx="580.5" cy="375.2" r="0.9" fill="#111"/>
<circle cx="586" cy="373.4" r="0.9" fill="#111"/>
<circle cx="590.5" cy="373.1" r="0.9" fill="#111"/>
<circle cx="595.8" cy="374.9" r="0.9" fill="#111"/>
<circle cx="585.5" cy="376.8" r="0.9" fill="#111"/>
<circle cx="591.5" cy="376.3" r="0.9" fill="#111"/>
<circle cx="591.2" cy="380" r="0.9" fill="#111"/>
<rect x="591" y="625.8" width="5.5" height="3.8" fill="#444"/>
<rect x="572.1" y="414.2" width="4.7" height="15.4" rx="1.5" fill="#fff" stroke="#555" stroke-width="0.9"/>
<path d="M574.3,417.2 v9.5" stroke="#bbb" stroke-width="0.8"/>
<rect x="572.1" y="576.6" width="4.7" height="15.4" rx="1.5" fill="#fff" stroke="#555" stroke-width="0.9"/>
<path d="M574.3,579.6 v9.5" stroke="#bbb" stroke-width="0.8"/>
<path d="M664.3,408.3 L664.3,654.5 Q667.5,657.5 671,656 L671,410 Q667,406.5 664.3,408.3 Z" fill="#fff" stroke="#333" stroke-width="0.9"/>
<line x1="667.5" y1="410.0" x2="667.5" y2="655.0" stroke="#999" stroke-width="0.6" />
<path d="M664.5,408.5 L667,406.5 L671.5,408.5 L671.5,411" fill="none" stroke="#333" stroke-width="0.8"/>
<path d="M663.1,492.6 L664.3000000000001,491.1 L670.4,491.40000000000003 L677.7,499.47 L677.7,520.6 L676.2,522.1 L663.1,522.1 Z" fill="#fff" stroke="#333" stroke-width="0.9" stroke-linejoin="round"/><path d="M666.75,494.20000000000005 L669.9,494.20000000000005 L674.7800000000001,500.40000000000003 L674.7800000000001,520.5500000000001" fill="none" stroke="#666" stroke-width="0.7"/><rect x="666.3" y="499.2" width="6.1" height="20.5" rx="1.9" fill="#e8e8e8" stroke="#333" stroke-width="0.81"/><path d="M670.4,522.1 L670.4,532.3 L675.2,532.3 L675.2,522.1" fill="#fff" stroke="#333" stroke-width="0.81"/><path d="M666.0,522.1 L666.0,533.3 L668.6,533.3" fill="none" stroke="#333" stroke-width="0.72"/>
<polygon points="664.7,364.1 664.7,369.6 672.3,377.0 679.9,369.6 679.9,364.1 672.3,371.5" fill="#1a1a1a" stroke="none" stroke-width="1" stroke-linejoin="round" />
<polygon points="664.7,374.7 664.7,380.2 672.3,387.6 679.9,380.2 679.9,374.7 672.3,382.1" fill="#1a1a1a" stroke="none" stroke-width="1" stroke-linejoin="round" />
<polygon points="683.2,444.2 688.8,445.8 689.0,439.8 702.0,457.2 689.2,464.5 689.8,459.0 683.2,456.2" fill="#d3d3d3" stroke="#4a4a4a" stroke-width="0.9" stroke-linejoin="round" />
<polygon points="683.2,527.8 688.8,529.2 689.0,523.2 702.0,540.8 689.2,548.0 689.8,542.5 683.2,539.8" fill="#d3d3d3" stroke="#4a4a4a" stroke-width="0.9" stroke-linejoin="round" />
<polygon points="683.2,614.1 688.8,615.6 689.0,609.6 702.0,627.1 689.2,634.3 689.8,628.8 683.2,626.1" fill="#d3d3d3" stroke="#4a4a4a" stroke-width="0.9" stroke-linejoin="round" />
<rect x="744.8" y="559" width="14" height="132" fill="#fff" stroke="none"/>
<line x1="744.8" y1="560.0" x2="744.8" y2="691.0" stroke="#bbb" stroke-width="0.8" />
<line x1="756.6" y1="561.0" x2="756.6" y2="691.0" stroke="#666" stroke-width="0.9" />
<line x1="758.6" y1="561.0" x2="758.6" y2="691.0" stroke="#555" stroke-width="1" />
<line x1="757.6" y1="561.0" x2="757.6" y2="691.0" stroke="#aaa" stroke-width="1" />
<path d="M744.3,559 Q744.5,557 748,556.8 L756,556.7 Q760.7,557.2 760.7,559.5 Q760,561.5 757,561.9 L748,561.9 Q744.5,561.5 744.3,559 Z" fill="#fff" stroke="#444" stroke-width="0.9"/>
<path d="M745.5,558.6 L751,558.4" stroke="#222" stroke-width="1.4"/>
<path d="M753,557.5 L756,557.5 M754,560.5 L757,560.5" stroke="#555" stroke-width="0.8"/>
<polygon points="737.1,690.2 744.3,687.8 758.0,687.6 769.9,691.6 763.0,695.5 746.4,696.8" fill="#fff" stroke="#999" stroke-width="0.8" stroke-linejoin="round" />
<line x1="738.0" y1="691.5" x2="746.4" y2="697.5" stroke="#aaa" stroke-width="0.7" />
<ellipse cx="741.6" cy="690" rx="1.4" ry="1" fill="#111"/>
<ellipse cx="748.3" cy="694" rx="1.4" ry="1" fill="#111"/>
<ellipse cx="766.2" cy="690.8" rx="1.4" ry="1" fill="#111"/>
<ellipse cx="763.5" cy="693.4" rx="1.4" ry="1" fill="#111"/>
</svg>
</body></html>
